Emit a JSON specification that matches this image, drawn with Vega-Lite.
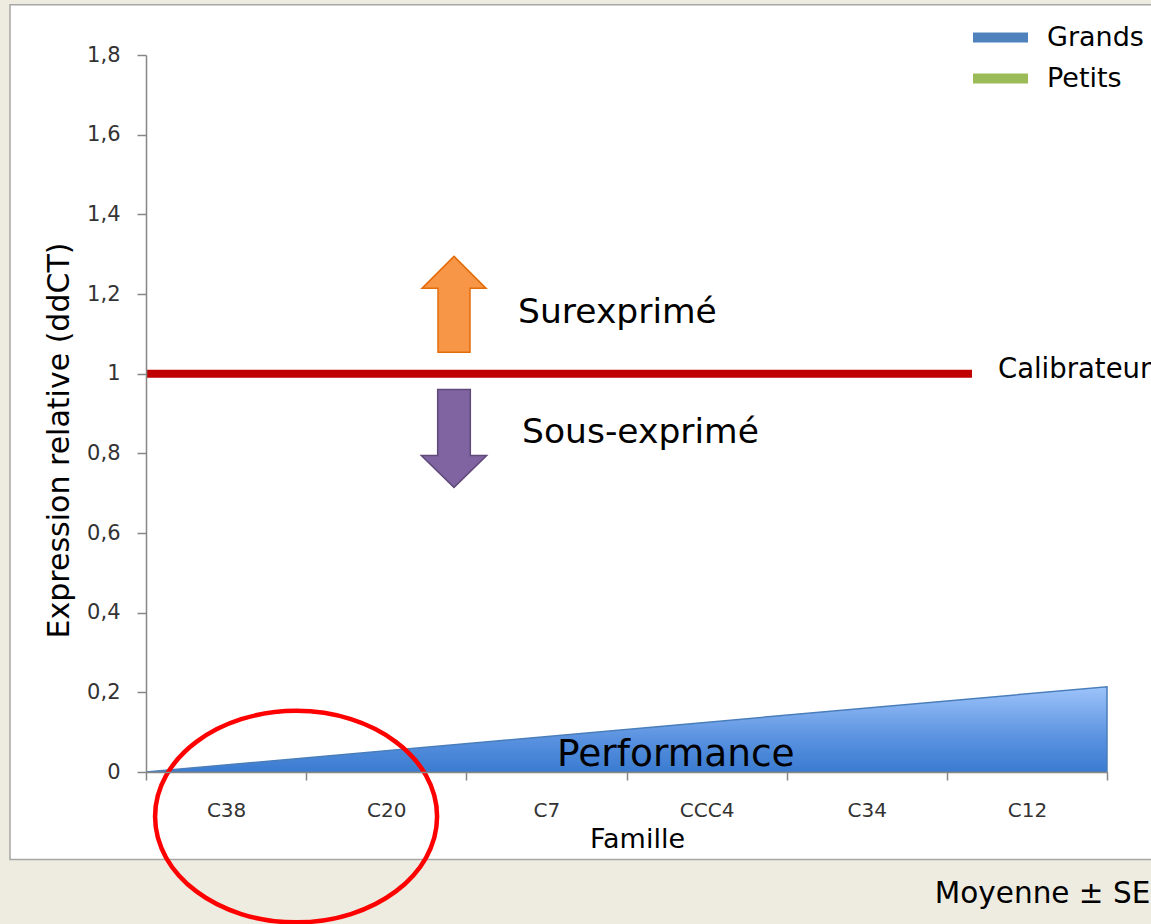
{
  "$schema": "https://vega.github.io/schema/vega-lite/v6.json",
  "width": 961,
  "height": 717,
  "autosize": {"type": "none"},
  "padding": {"left": 146, "top": 55, "right": 44, "bottom": 152},
  "background": "#EEECE1",
  "config": {
    "view": {"stroke": null},
    "font": "DejaVu Sans"
  },
  "resolve": {"scale": {"x": "independent"}, "axis": {"x": "independent"}},
  "layer": [
    {
      "data": {"values": [{}]},
      "layer": [
        {
          "mark": {"type": "rect", "fill": "#FFFFFF", "stroke": "#A6A6A6", "strokeWidth": 1.5},
          "encoding": {
            "x": {"datum": -0.849, "type": "quantitative", "scale": {"domain": [0, 6], "nice": false, "zero": false}, "axis": null},
            "x2": {"datum": 6.4},
            "y": {"datum": 1.926, "type": "quantitative", "scale": {"domain": [0, 1.8], "nice": false, "zero": false}},
            "y2": {"datum": -0.2197}
          }
        },
        {
          "data": {"values": [{"position": 0, "valeur": 0}, {"position": 6, "valeur": 0.214}]},
          "mark": {
            "type": "area",
            "stroke": "#4A7EBB",
            "strokeWidth": 1.5,
            "fill": {
              "gradient": "linear", "x1": 0, "y1": 0, "x2": 0, "y2": 1,
              "stops": [{"offset": 0, "color": "#9DC3FA"}, {"offset": 0.6, "color": "#5A92E0"}, {"offset": 1, "color": "#3A7BD0"}]
            }
          },
          "encoding": {
            "x": {"field": "position", "type": "quantitative", "scale": {"domain": [0, 6], "nice": false, "zero": false}, "axis": null},
            "y": {
              "field": "valeur", "type": "quantitative",
              "scale": {"domain": [0, 1.8], "nice": false, "zero": false},
              "axis": {
                "zindex": 2,
                "title": "Expression relative (ddCT)",
                "values": [0, 0.2, 0.4, 0.6, 0.8, 1, 1.2, 1.4, 1.6, 1.8],
                "labelExpr": "replace(format(datum.value, '~g'), '.', ',')",
                "grid": false,
                "tickSize": 9,
                "tickColor": "#868686",
                "tickWidth": 1.5,
                "domainColor": "#868686",
                "domainWidth": 1.5,
                "labelFont": "DejaVu Sans",
                "labelFontSize": 21,
                "labelColor": "#333333",
                "labelPadding": 17,
                "titleFont": "DejaVu Sans",
                "titleFontSize": 30,
                "titleFontWeight": "normal",
                "titleColor": "#000000",
                "titleAngle": 270,
                "titleAlign": "center",
                "titleBaseline": "middle",
                "titleX": -87,
                "titleY": 385
              }
            }
          }
        },
        {
          "mark": {"type": "rule", "color": "#C00000", "strokeWidth": 8},
          "encoding": {
            "x": {"datum": 0, "type": "quantitative", "scale": {"domain": [0, 6], "nice": false, "zero": false}, "axis": null},
            "x2": {"datum": 5.157},
            "y": {"datum": 1, "type": "quantitative", "scale": {"domain": [0, 1.8], "nice": false, "zero": false}}
          }
        },
        {
          "mark": {
            "type": "point",
            "shape": "M0,-1 L0.667,-0.333 L0.333,-0.333 L0.333,1 L-0.333,1 L-0.333,-0.333 L-0.667,-0.333 Z",
            "size": 9216, "filled": true, "fill": "#F79646", "stroke": "#E46C0A", "strokeWidth": 1.5, "opacity": 1
          },
          "encoding": {
            "x": {"datum": 1.923, "type": "quantitative", "scale": {"domain": [0, 6], "nice": false, "zero": false}, "axis": null},
            "y": {"datum": 1.174, "type": "quantitative", "scale": {"domain": [0, 1.8], "nice": false, "zero": false}}
          }
        },
        {
          "mark": {
            "type": "point",
            "shape": "M-0.333,-1 L0.333,-1 L0.333,0.35 L0.667,0.35 L0,1 L-0.667,0.35 L-0.333,0.35 Z",
            "size": 9604, "filled": true, "fill": "#8064A2", "stroke": "#5F497A", "strokeWidth": 1.5, "opacity": 1
          },
          "encoding": {
            "x": {"datum": 1.923, "type": "quantitative", "scale": {"domain": [0, 6], "nice": false, "zero": false}, "axis": null},
            "y": {"datum": 0.8375, "type": "quantitative", "scale": {"domain": [0, 1.8], "nice": false, "zero": false}}
          }
        },
        {
          "mark": {"type": "text", "text": "Surexprimé", "align": "left", "baseline": "alphabetic", "fontSize": 34.5, "color": "#000000"},
          "encoding": {
            "x": {"datum": 2.323, "type": "quantitative", "scale": {"domain": [0, 6], "nice": false, "zero": false}, "axis": null},
            "y": {"datum": 1.126, "type": "quantitative", "scale": {"domain": [0, 1.8], "nice": false, "zero": false}}
          }
        },
        {
          "mark": {"type": "text", "text": "Sous-exprimé", "align": "left", "baseline": "alphabetic", "fontSize": 34.5, "color": "#000000"},
          "encoding": {
            "x": {"datum": 2.348, "type": "quantitative", "scale": {"domain": [0, 6], "nice": false, "zero": false}, "axis": null},
            "y": {"datum": 0.825, "type": "quantitative", "scale": {"domain": [0, 1.8], "nice": false, "zero": false}}
          }
        },
        {
          "mark": {"type": "text", "text": "Performance", "align": "left", "baseline": "alphabetic", "fontSize": 37.5, "color": "#000000"},
          "encoding": {
            "x": {"datum": 2.566, "type": "quantitative", "scale": {"domain": [0, 6], "nice": false, "zero": false}, "axis": null},
            "y": {"datum": 0.016, "type": "quantitative", "scale": {"domain": [0, 1.8], "nice": false, "zero": false}}
          }
        },
        {
          "mark": {"type": "text", "text": "Calibrateur", "align": "left", "baseline": "alphabetic", "fontSize": 27.5, "color": "#000000"},
          "encoding": {
            "x": {"datum": 5.319, "type": "quantitative", "scale": {"domain": [0, 6], "nice": false, "zero": false}, "axis": null},
            "y": {"datum": 0.988, "type": "quantitative", "scale": {"domain": [0, 1.8], "nice": false, "zero": false}}
          }
        },
        {
          "mark": {"type": "text", "text": "Moyenne ± SE", "align": "left", "baseline": "alphabetic", "fontSize": 29.5, "color": "#000000"},
          "encoding": {
            "x": {"datum": 4.925, "type": "quantitative", "scale": {"domain": [0, 6], "nice": false, "zero": false}, "axis": null},
            "y": {"datum": -0.3285, "type": "quantitative", "scale": {"domain": [0, 1.8], "nice": false, "zero": false}}
          }
        },
        {
          "mark": {
            "type": "point",
            "shape": "M1,0 C1,0.4142 0.5523,0.75 0,0.75 C-0.5523,0.75 -1,0.4142 -1,0 C-1,-0.4142 -0.5523,-0.75 0,-0.75 C0.5523,-0.75 1,-0.4142 1,0 Z",
            "size": 79524, "filled": false, "stroke": "#FF0000", "strokeWidth": 4.5, "opacity": 1
          },
          "encoding": {
            "x": {"datum": 0.937, "type": "quantitative", "scale": {"domain": [0, 6], "nice": false, "zero": false}, "axis": null},
            "y": {"datum": -0.112, "type": "quantitative", "scale": {"domain": [0, 1.8], "nice": false, "zero": false}}
          }
        },
        {
          "data": {"values": [{"groupe": "Grands"}, {"groupe": "Petits"}]},
          "mark": {"type": "point", "filled": true, "opacity": 0},
          "encoding": {
            "color": {
              "field": "groupe", "type": "nominal",
              "scale": {"domain": ["Grands", "Petits"], "range": ["#4F81BD", "#9BBB59"]},
              "legend": {
                "title": null,
                "orient": "none",
                "legendX": 827,
                "legendY": -45,
                "padding": 0,
                "symbolType": "M-1,-0.18 L1,-0.18 L1,0.18 L-1,0.18 Z",
                "symbolSize": 3025,
                "symbolStrokeWidth": 0,
                "symbolOpacity": 1,
                "labelFont": "DejaVu Sans",
                "labelFontSize": 27,
                "labelColor": "#000000",
                "labelOffset": 19,
                "rowPadding": -23
              }
            }
          }
        }
      ]
    },
    {
      "data": {"values": [
        {"famille": "C38"}, {"famille": "C20"}, {"famille": "C7"},
        {"famille": "CCC4"}, {"famille": "C34"}, {"famille": "C12"}
      ]},
      "mark": {"type": "rule", "opacity": 0},
      "encoding": {
        "x": {
          "field": "famille", "type": "nominal", "sort": null,
          "scale": {"type": "band", "domain": ["C38", "C20", "C7", "CCC4", "C34", "C12"], "paddingInner": 0, "paddingOuter": 0},
          "axis": {
            "zindex": 2,
            "title": "Famille",
            "labelAngle": 0,
            "tickBand": "extent",
            "tickSize": 8,
            "tickColor": "#868686",
            "tickWidth": 1.5,
            "domainColor": "#868686",
            "domainWidth": 1.5,
            "labelFont": "DejaVu Sans",
            "labelFontSize": 20,
            "labelColor": "#333333",
            "labelBaseline": "alphabetic",
            "labelPadding": 36,
            "titleFont": "DejaVu Sans",
            "titleFontSize": 27,
            "titleFontWeight": "normal",
            "titleColor": "#000000",
            "titleAlign": "center",
            "titleBaseline": "alphabetic",
            "titleX": 491,
            "titleY": 75.5
          }
        }
      }
    }
  ]
}
